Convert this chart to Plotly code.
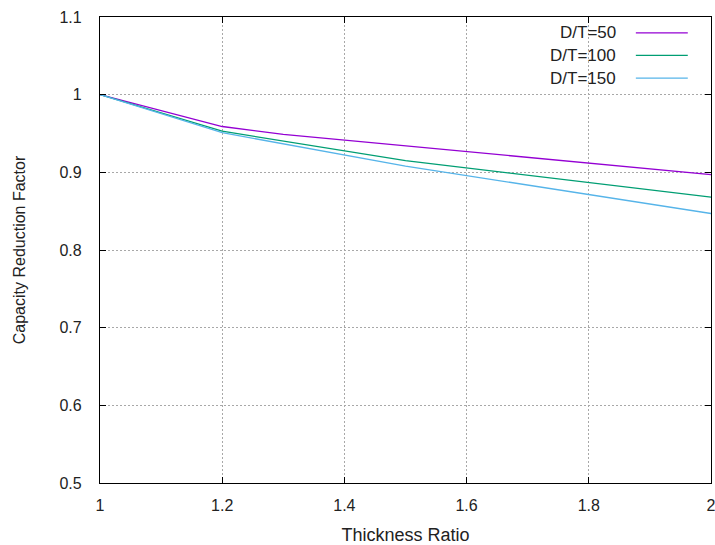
import plotly.graph_objects as go

x50 = [1.0, 1.2, 1.3, 1.5, 2.0]
y50 = [1.0, 0.959, 0.949, 0.934, 0.897]
x100 = [1.0, 1.2, 1.5, 2.0]
y100 = [1.0, 0.953, 0.915, 0.868]
x150 = [1.0, 1.2, 1.5, 2.0]
y150 = [1.0, 0.951, 0.908, 0.847]
names = ["D/T=50", "D/T=100", "D/T=150"]
colors = ["#9400d3", "#009e73", "#56b4e9"]

fig = go.Figure()
for xs, ys, n, c in zip([x50, x100, x150], [y50, y100, y150], names, colors):
    fig.add_trace(go.Scatter(x=xs, y=ys, mode="lines", name=n,
                             line=dict(color=c, width=1.3), showlegend=False))

# gnuplot-style legend: right-aligned text then line sample
for i, (n, c) in enumerate(zip(names, colors)):
    yp = 0.966 - i * 0.0485
    fig.add_annotation(x=0.848, y=yp, xref="paper", yref="paper", text=n,
                       showarrow=False, xanchor="right", yanchor="middle",
                       font=dict(size=17, color="#222"))
    fig.add_shape(type="line", xref="paper", yref="paper",
                  x0=0.877, x1=0.962, y0=yp, y1=yp, line=dict(color=c, width=1.3))

axis_common = dict(showline=True, linecolor="black", linewidth=1.3, mirror="ticks",
                   ticks="inside", ticklen=6, tickcolor="black",
                   showgrid=True, gridcolor="#a8a8a8", griddash="2px,2px", gridwidth=1,
                   zeroline=False, automargin=False, ticklabeloverflow="allow",
                   tickfont=dict(size=16, color="#222"))

fig.update_xaxes(range=[1, 2], dtick=0.2, tick0=1, ticklabelstandoff=8,
                 title=dict(text="Thickness Ratio", font=dict(size=18, color="#222"), standoff=18),
                 **axis_common)
fig.update_yaxes(range=[0.5, 1.1], dtick=0.1, tick0=0.5, tickformat="~g", ticklabelstandoff=14,
                 title=dict(text="Capacity Reduction Factor", font=dict(size=16, color="#222"), standoff=29),
                 **axis_common)

fig.update_layout(width=715, height=545, plot_bgcolor="white", paper_bgcolor="white",
                  margin=dict(l=100, r=4, t=17, b=62),
                  font=dict(family="Liberation Sans, Arial, sans-serif"))
fig.write_html("out.html", config={"displayModeBar": False},
               post_script="document.body.style.margin='0';")
